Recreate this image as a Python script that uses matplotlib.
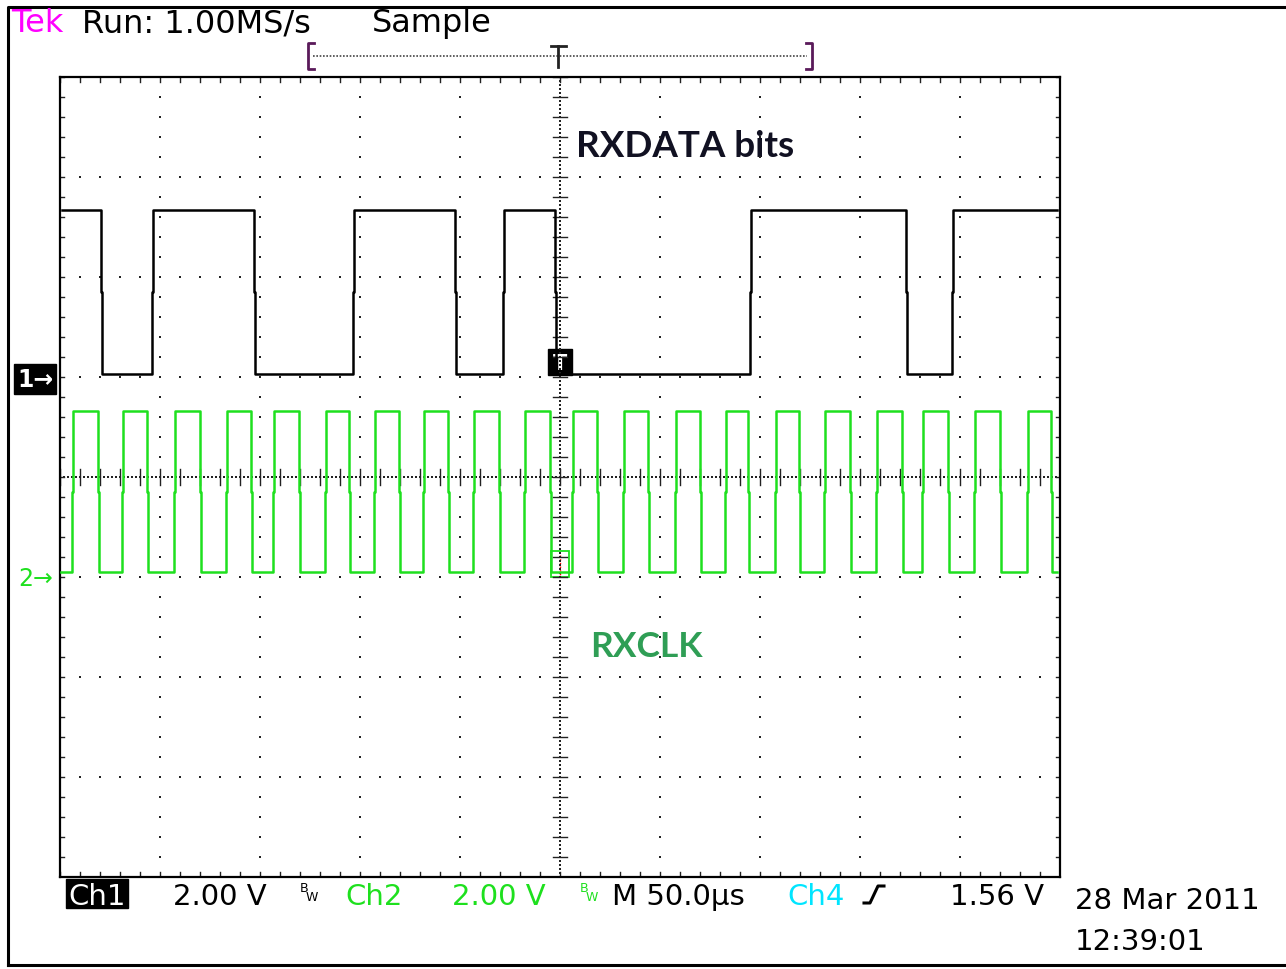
import numpy as np
import matplotlib.pyplot as plt
from matplotlib.patches import Rectangle

W, H = 1286, 970

# Ch1 = RXDATA, Ch2 = RXCLK (time in us from left edge of screen, levels in V)
ch1_start = 1.0
ch1_edges = [20.5, 46.0, 97.0, 146.5, 197.5, 221.5, 247.5, 345.0, 423.0, 446.0]
ch1_end = 498.5
ch1_first_high = True
ch1_high, ch1_low = 3.34, 0.06

ch2_start = 0.5
ch2_rises = [6.0, 31.0, 57.0, 83.0, 106.5, 132.5, 157.0, 181.5, 206.5, 232.0,
             256.0, 281.5, 307.5, 332.5, 357.5, 382.0, 408.0, 431.0, 457.0, 483.5]
ch2_falls = [19.0, 43.5, 70.0, 95.5, 119.5, 144.5, 169.5, 194.0, 219.5, 245.0,
             268.5, 294.0, 320.0, 344.0, 369.5, 395.0, 421.0, 444.0, 470.0, 495.5]
ch2_end = 498.5
ch2_high, ch2_low = 3.32, 0.10

volts_per_div = 2.0
us_per_div = 50.0
ch1_offset = 1.0    # divisions above centre
ch2_offset = -1.0


def square_trace(t0, t1, edges, first_high, hi, lo, jog=0.6):
    # step waveform; every edge gets the little half-way jog the scope draws
    lvl = hi if first_high else lo
    xs, ys = [t0], [lvl]
    for e in edges:
        new = lo if lvl == hi else hi
        mid = (lvl + new) / 2
        xs += [e, e, e + jog, e + jog]
        ys += [lvl, mid, mid, new]
        lvl = new
    xs.append(t1)
    ys.append(lvl)
    return np.array(xs), np.array(ys)


fig = plt.figure(figsize=(W / 100, H / 100), dpi=100)

# pixel overlay for frame and readouts
ov = fig.add_axes([0, 0, 1, 1])
ov.set_xlim(0, W)
ov.set_ylim(H, 0)
ov.axis("off")
ov.plot([8, 8, 1300, 1300, 8], [966, 8, 8, 966, 966], color="black", lw=2.2)

# graticule
ax = fig.add_axes([60 / W, (H - 878) / H, 1000 / W, 800 / H])
ax.set_xlim(0, 10)
ax.set_ylim(-4, 4)
ax.set_xticks([])
ax.set_yticks([])
ax.patch.set_alpha(0)
for s in ax.spines.values():
    s.set_linewidth(1.6)
    s.set_color("black")

dot = dict(marker="s", s=1.8, color="#222222", linewidths=0, zorder=1)
minor = np.arange(0, 10.01, 0.2)
minor_y = np.arange(-4, 4.01, 0.2)
for gx in range(1, 10):
    if gx != 5:
        ax.scatter(np.full(minor_y.size, gx), minor_y, **dot)
for gy in range(-3, 4):
    if gy != 0:
        ax.scatter(minor, np.full(minor.size, gy), **dot)

# centre cross: fine dots plus short tick marks
fine_x = np.arange(0, 10.01, 0.04)
fine_y = np.arange(-4, 4.01, 0.04)
ax.scatter(fine_x, np.zeros(fine_x.size), **dot)
ax.scatter(np.full(fine_y.size, 5), fine_y, **dot)
for mx in minor:
    ax.plot([mx, mx], [-0.08, 0.08], color="#222222", lw=1.0, zorder=1)
for my in minor_y:
    ax.plot([4.93, 5.07], [my, my], color="#222222", lw=1.0, zorder=1)

# edge ticks
for mx in minor:
    ax.plot([mx, mx], [4, 3.95], color="#222222", lw=1.0)
    ax.plot([mx, mx], [-4, -3.95], color="#222222", lw=1.0)
for my in minor_y:
    ax.plot([0, 0.04], [my, my], color="#222222", lw=1.0)
    ax.plot([10, 9.96], [my, my], color="#222222", lw=1.0)

# traces
x1, y1 = square_trace(ch1_start, ch1_end, ch1_edges, ch1_first_high, ch1_high, ch1_low)
ax.plot(x1 / us_per_div, y1 / volts_per_div + ch1_offset, color="black", lw=1.8, zorder=3)

ch2_edges = sorted(ch2_rises + ch2_falls)
x2, y2 = square_trace(ch2_start, ch2_end, ch2_edges, False, ch2_high, ch2_low)
ax.plot(x2 / us_per_div, y2 / volts_per_div + ch2_offset, color="#1ee01e", lw=1.8, zorder=3)

# trigger markers on the traces
ov.add_patch(Rectangle((548, 350), 24, 26, color="black", zorder=5))
ov.text(560, 364, "T", color="white", fontsize=15, fontweight="bold",
        ha="center", va="center", zorder=6)
ov.add_patch(Rectangle((551, 552), 18, 26, fill=False, ec="#1ee01e", lw=1.3, zorder=5))
ov.plot([560, 560], [556, 576], color="red", lw=1, ls=":", zorder=6)

# channel ground markers
ov.text(17, 380, "1\u2192", color="white", fontsize=17, fontweight="bold", va="center",
        bbox=dict(boxstyle="square,pad=0.12", fc="black", ec="black"))
ov.text(18, 579, "2\u2192", color="#1ee01e", fontsize=17, va="center")

# trigger position bar
bar_c = "#5a1a5a"
ov.plot([314, 308, 308, 314], [44, 44, 70, 70], color=bar_c, lw=2)
ov.plot([806, 812, 812, 806], [44, 44, 70, 70], color=bar_c, lw=2)
ov.plot([313, 807], [57, 57], color="#444444", lw=1.2, ls=(0, (1, 1)))
ov.plot([551, 566], [47, 47], color="#222222", lw=2)
ov.plot([558, 558], [47, 68], color="#222222", lw=2)

# top status line
top = dict(fontsize=23, va="baseline", family="DejaVu Sans")
ov.text(11, 32, "Tek", color="#ff00ff", **top)
ov.text(82, 32, "Run: 1.00MS/s", color="black", **top)
ov.text(372, 32, "Sample", color="black", **top)

# annotations
ov.text(576, 157, "RXDATA bits", color="#111122", fontsize=26.5, fontweight="bold",
        family=["Lato", "DejaVu Sans"], va="baseline")
ov.text(590, 657, "RXCLK", color="#2f9e55", fontsize=25.5, fontweight="bold",
        family=["Lato", "DejaVu Sans"], va="baseline")

# bottom readouts
bot = dict(fontsize=21, va="baseline", family="DejaVu Sans")
ov.add_patch(Rectangle((66, 880), 62, 29, color="black"))
ov.text(68, 905, "Ch1", color="white", **bot)
ov.text(173, 905, "2.00 V", color="black", **bot)
ov.text(300, 892, "B", color="black", fontsize=9, family="DejaVu Sans")
ov.text(306, 901, "W", color="black", fontsize=9, family="DejaVu Sans")
ov.text(345, 905, "Ch2", color="#1ee01e", **bot)
ov.text(452, 905, "2.00 V", color="#1ee01e", **bot)
ov.text(580, 892, "B", color="#1ee01e", fontsize=9, family="DejaVu Sans")
ov.text(586, 901, "W", color="#1ee01e", fontsize=9, family="DejaVu Sans")
ov.text(612, 905, "M 50.0\u00b5s", color="black", **bot)
ov.text(787, 905, "Ch4", color="#00e5ff", **bot)
ov.plot([864, 870, 878, 884], [904, 904, 887, 887], color="black", lw=2.2)
ov.text(950, 905, "1.56 V", color="black", **bot)
ov.text(1075, 909, "28 Mar 2011", color="black", **bot)
ov.text(1075, 950, "12:39:01", color="black", **bot)

fig.savefig("out.png", dpi=100)
